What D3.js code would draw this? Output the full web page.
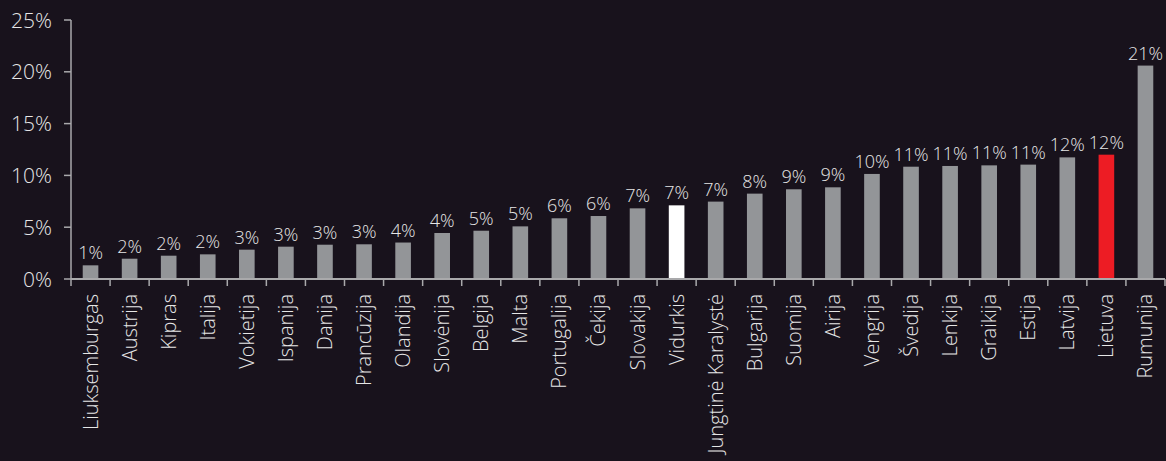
<!DOCTYPE html>
<html>
<head>
<meta charset="utf-8">
<script src="https://cdn.jsdelivr.net/npm/d3@7"></script>
<style>
  html, body { margin: 0; padding: 0; background: #18121c; }
  svg text { font-family: "Open Sans", "Noto Sans", sans-serif; font-weight: 300; fill: #e6e6e6; }
</style>
</head>
<body>
<div id="chart-area"></div>
<script>
// Data
const countries = ["Liuksemburgas", "Austrija", "Kipras", "Italija", "Vokietija", "Ispanija", "Danija",
  "Prancūzija", "Olandija", "Slovėnija", "Belgija", "Malta", "Portugalija", "Čekija", "Slovakija",
  "Vidurkis", "Jungtinė Karalystė", "Bulgarija", "Suomija", "Airija", "Vengrija", "Švedija",
  "Lenkija", "Graikija", "Estija", "Latvija", "Lietuva", "Rumunija"];
const values = [1.32, 1.96, 2.25, 2.38, 2.83, 3.12, 3.31, 3.35, 3.52, 4.44, 4.66, 5.08, 5.86, 6.08,
  6.82, 7.11, 7.47, 8.24, 8.66, 8.85, 10.14, 10.84, 10.91, 10.97, 11.04, 11.74, 12.0, 20.6];
const yTicks = [0, 5, 10, 15, 20, 25];

const width = 1166, height = 461;
const x0 = 71, x1 = 1165, yZero = 279, yTop = 20;

const svg = d3.select("#chart-area")
    .append("svg")
    .attr("width", width)
    .attr("height", height);

const xScale = d3.scaleBand().domain(countries).range([x0, x1]).paddingInner(0.6).paddingOuter(0.3);
const xStep = d3.scaleBand().domain(countries).range([x0, x1]);
const yScale = d3.scaleLinear().domain([0, 25]).range([yZero, yTop]);

function barColor(name) {
    if (name === "Vidurkis") return "#ffffff";
    if (name === "Lietuva") return "#ed1c24";
    return "#939598";
}

// Bars
svg.selectAll(".bar")
    .data(countries)
    .enter()
    .append("rect")
    .attr("class", "bar")
    .attr("x", d => xScale(d))
    .attr("width", xScale.bandwidth())
    .attr("y", (d, i) => yScale(values[i]))
    .attr("height", (d, i) => yZero - yScale(values[i]))
    .attr("fill", d => barColor(d));

// Value labels
svg.selectAll(".value-label")
    .data(countries)
    .enter()
    .append("text")
    .attr("class", "value-label")
    .attr("x", d => xScale(d) + xScale.bandwidth() / 2)
    .attr("y", (d, i) => yScale(values[i]) - 6)
    .attr("text-anchor", "middle")
    .style("font-size", "18px")
    .text((d, i) => Math.round(values[i]) + "%");

// Y axis
const axisColor = "#a9a9ab";
svg.append("line")
    .attr("x1", x0).attr("x2", x0)
    .attr("y1", yTop).attr("y2", yZero)
    .attr("stroke", axisColor).attr("stroke-width", 1.5);

svg.selectAll(".y-tick")
    .data(yTicks)
    .enter()
    .append("line")
    .attr("x1", x0 - 7).attr("x2", x0)
    .attr("y1", d => yScale(d)).attr("y2", d => yScale(d))
    .attr("stroke", axisColor).attr("stroke-width", 1.5);

svg.selectAll(".y-label")
    .data(yTicks)
    .enter()
    .append("text")
    .attr("x", x0 - 19)
    .attr("y", d => yScale(d))
    .attr("dy", "0.36em")
    .attr("text-anchor", "end")
    .style("font-size", "21px")
    .text(d => d + "%");

// X axis
svg.append("line")
    .attr("x1", x0).attr("x2", x1)
    .attr("y1", yZero).attr("y2", yZero)
    .attr("stroke", axisColor).attr("stroke-width", 2);

svg.selectAll(".x-tick")
    .data(countries.concat(["end"]))
    .enter()
    .append("line")
    .attr("x1", (d, i) => x0 + i * xStep.step())
    .attr("x2", (d, i) => x0 + i * xStep.step())
    .attr("y1", yZero).attr("y2", yZero + 7)
    .attr("stroke", axisColor).attr("stroke-width", 1.5);

svg.selectAll(".x-label")
    .data(countries)
    .enter()
    .append("text")
    .attr("class", "x-label")
    .attr("transform", d => "translate(" + (xStep(d) + xStep.bandwidth() / 2) + "," + (yZero + 15) + ") rotate(-90)")
    .attr("dy", "0.35em")
    .attr("text-anchor", "end")
    .style("font-size", "20px")
    .text(d => d);
</script>
</body>
</html>
